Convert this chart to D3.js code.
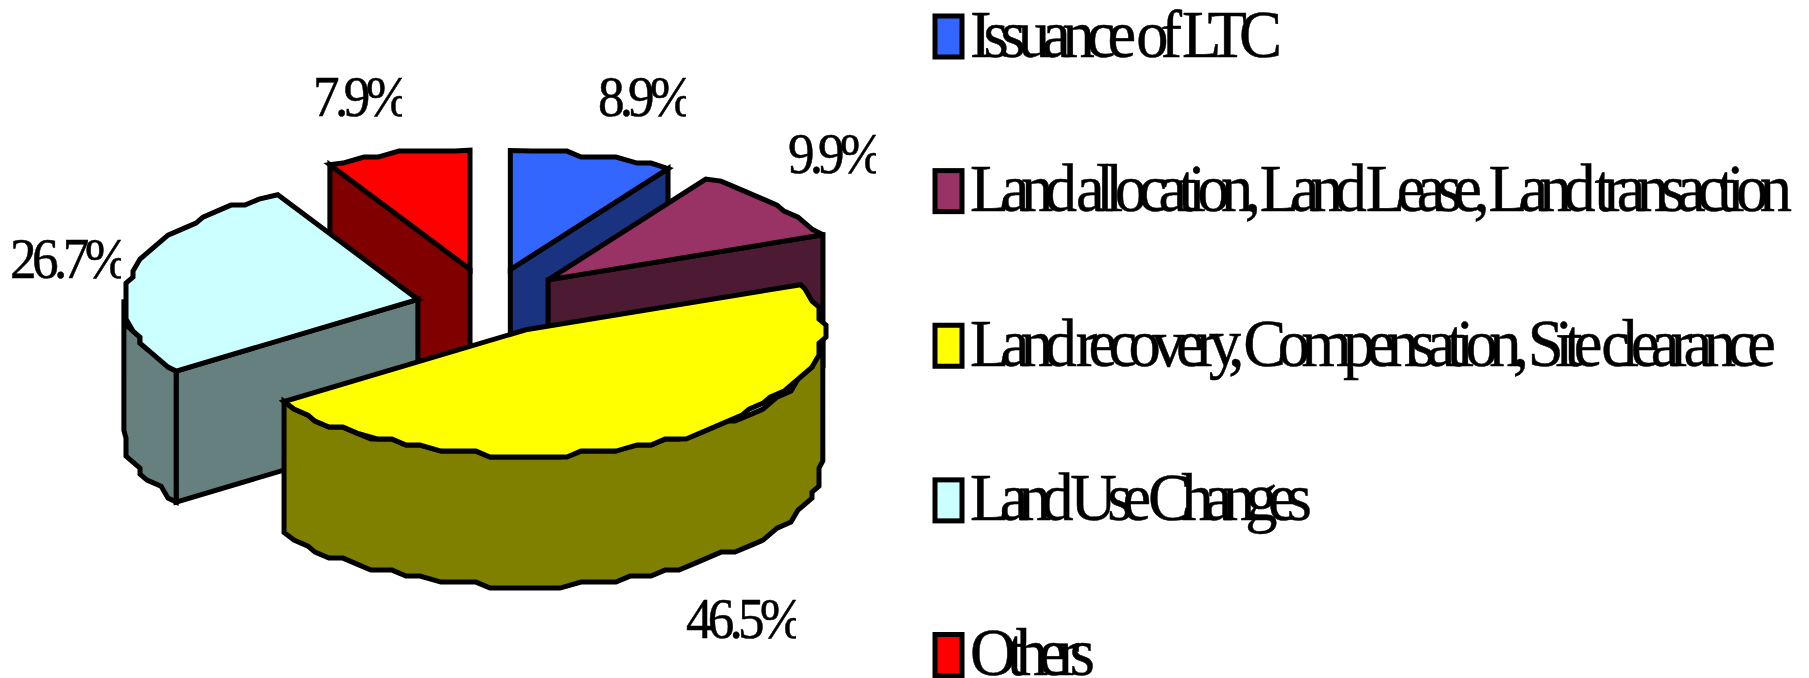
<!DOCTYPE html>
<html><head><meta charset="utf-8">
<script src="https://cdn.jsdelivr.net/npm/d3@7/dist/d3.min.js"></script>
<style>html,body{margin:0;padding:0;background:#fff;overflow:hidden}svg{display:block}text{font-family:"Liberation Serif",serif;fill:#000;stroke:#000;stroke-width:.5}</style>
</head><body><svg id="c" width="1809" height="678"></svg>
<script>
const categories = ["Issuance of LTC","Land allocation, Land Lease, Land transaction","Land recovery, Compensation, Site clearance","Land Use Changes","Others"];
const values = [8.9,9.9,46.5,26.7,7.9];
const valueLabels = ["8.9%","9.9%","46.5%","26.7%","7.9%"];
const topColors = ["#3366FF","#993366","#FFFF00","#CCFFFF","#FF0000"];
const sideColors = ["#1A3380","#4D1A33","#808000","#668080","#800000"];
const drawOrder = [0,1,4,3,2];
// layout
const cx=489, cy=301, rxRight=297, rxLeft=294, ryTop=119, ryBottom=126, ryExplode=126, depth=131, explode=0.26;
const nudges = [[0,0],[0,0],[0,0],[4,6],[0,0]];
const labelBoxes = [[598,116,88],[788,173,88],[686,638,110],[10,278,111],[313,116,89]];
const legendWidths = [312,822,806,342,125];
const svg = d3.select("#c");
const arcs = d3.pie().sort(null).value(d=>d)(values);
const stepX=7, stepY=6, snapOffY=1.1;
const px = (a,o) => {
  const s=Math.sin(a), c=Math.cos(a);
  return [o[0]+(s<0?rxLeft:rxRight)*s, o[1]-(c>0?ryTop:ryBottom)*c];
};
function rim(a0,a1,o){
  const n=Math.max(1,Math.round((a1-a0)/(3.5*Math.PI/180)));
  const pts=d3.range(n+1).map(i=>{
    const p=px(a0+(a1-a0)*i/n,o);
    if(i===0||i===n) return p;
    return [Math.round(p[0]/stepX)*stepX,Math.round((p[1]-snapOffY)/stepY)*stepY+snapOffY];
  });
  return pts.filter((p,i)=>i===0||p[0]!==pts[i-1][0]||p[1]!==pts[i-1][1]);
}
const line = d3.line().curve(d3.curveLinearClosed);
const slices = arcs.map((d,i)=>{
  const mid=(d.startAngle+d.endAngle)/2;
  const o=[cx+explode*rxRight*Math.sin(mid)+nudges[i][0], cy-explode*ryExplode*Math.cos(mid)+nudges[i][1]];
  return {i,d,o};
});
const g = svg.append("g").attr("stroke","#000").attr("stroke-width",5).attr("stroke-linejoin","miter").attr("stroke-miterlimit",3);
drawOrder.forEach(k=>{
  const {i,d,o}=slices[k];
  const a0=d.startAngle,a1=d.endAngle;
  const down=[o[0],o[1]+depth];
  const face=a=>{const p=px(a,o);return [o,p,[p[0],p[1]+depth],down];};
  if(Math.cos(a0-Math.PI/2)<0) g.append("path").attr("d",line(face(a0))).attr("fill",sideColors[i]);
  if(Math.cos(a1+Math.PI/2)<0) g.append("path").attr("d",line(face(a1))).attr("fill",sideColors[i]);
  const w0=Math.max(a0,Math.PI/2),w1=Math.min(a1,3*Math.PI/2);
  if(w1>w0){
    const up=rim(w0,w1,o), lo=up.map(p=>[p[0],p[1]+depth]).reverse();
    g.append("path").attr("d",line(up.concat(lo))).attr("fill",sideColors[i]);
  }
  g.append("path").attr("d",line([o].concat(rim(a0,a1,o)))).attr("fill",topColors[i]);
});
const sx=0.95;
function fit(sel,x,y,w,size,t){
  return sel.append("text").attr("transform",`translate(${x},${y}) scale(${sx},1)`)
    .attr("font-size",size).attr("textLength",w/sx).attr("lengthAdjust","spacing").text(t);
}
const defs=svg.append("defs");
valueLabels.forEach((t,i)=>{
  const b=labelBoxes[i];
  defs.append("clipPath").attr("id","lc"+i).append("rect").attr("x",b[0]-4).attr("y",b[1]-60).attr("width",b[2]+4).attr("height",75);
  fit(svg.append("g").attr("clip-path",`url(#lc${i})`),b[0],b[1],b[2]+8,56,t);
});
const rowY=d3.scalePoint().domain(categories).range([36.5,655]);
categories.forEach((t,i)=>{
  const y=rowY(t);
  svg.append("rect").attr("x",935).attr("y",y-20.5).attr("width",27).attr("height",41)
    .attr("fill",topColors[i]).attr("stroke","#000").attr("stroke-width",5);
  fit(svg,970,y+20,legendWidths[i],68,t);
});
</script></body></html>
